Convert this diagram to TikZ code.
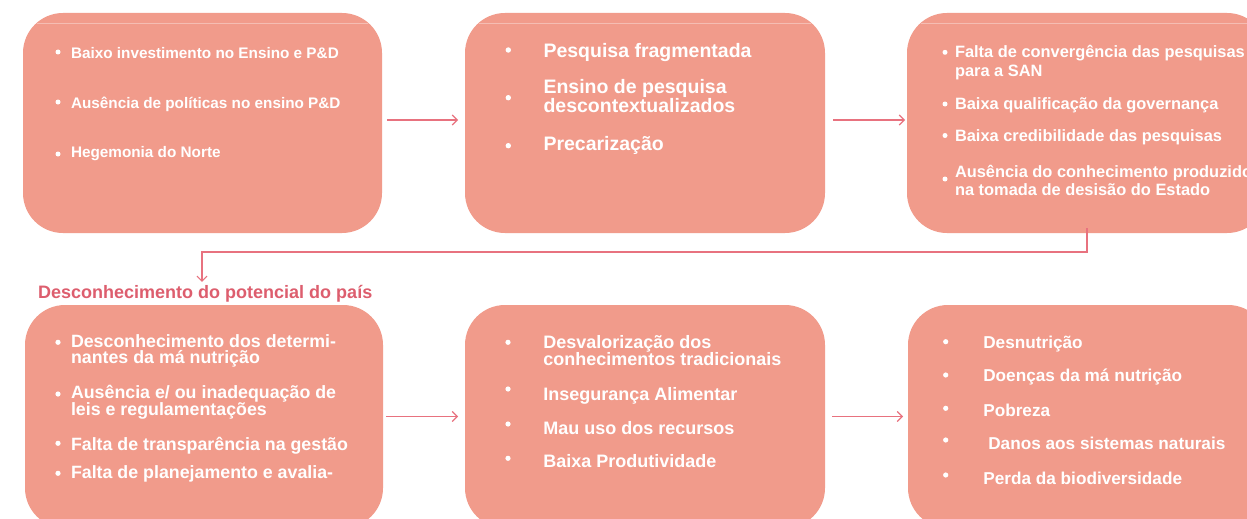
\documentclass[tikz,border=0pt]{standalone}
\usepackage{fontspec}
\setmainfont{Liberation Sans}
\usetikzlibrary{arrows.meta}
\definecolor{boxfill}{HTML}{F19B8B}
\definecolor{linecol}{HTML}{E8727F}
\definecolor{titlecol}{HTML}{DD5E6E}
\tikzset{
  boxnode/.style={rectangle, rounded corners=40pt, fill=boxfill, draw=none, inner sep=0pt, outer sep=0pt},
  item/.style={anchor=base west, inner sep=0pt, outer sep=0pt, text=white, font=\bfseries},
  fa/.style={font=\fontsize{15.3}{18}\selectfont\bfseries},
  fb/.style={font=\fontsize{19.5}{22}\selectfont\bfseries},
  fc/.style={font=\fontsize{16.4}{19}\selectfont\bfseries},
  fd/.style={font=\fontsize{17.8}{20}\selectfont\bfseries},
  fe/.style={font=\fontsize{18}{20}\selectfont\bfseries},
  ff/.style={font=\fontsize{17.2}{20}\selectfont\bfseries},
  arr/.style={draw=linecol, line width=1.1pt, -{Straight Barb[length=5pt,width=10pt]}},
  faint/.style={draw=white, draw opacity=0.35, line width=0.7pt},
  bul/.style={fill=white}
}
\begin{document}
\begin{tikzpicture}[x=1pt,y=-1pt]
\clip (0,0) rectangle (1247,519);
\fill[white] (0,0) rectangle (1247,519);
% boxes
\node[boxnode, minimum width=359pt, minimum height=220pt] (b1) at (202.5,123) {};
\node[boxnode, minimum width=360pt, minimum height=220pt] (b2) at (645,123) {};
\node[boxnode, minimum width=360pt, minimum height=220pt] (b3) at (1087,123) {};
\node[boxnode, minimum width=358pt, minimum height=223pt] (b4) at (204,416.5) {};
\node[boxnode, minimum width=360pt, minimum height=223pt] (b5) at (645,416.5) {};
\node[boxnode, minimum width=360pt, minimum height=223pt] (b6) at (1088,416.5) {};
% faint top lines
\foreach \b in {b1,b2,b3}{
  \draw[faint] ([xshift=14pt,yshift=-10pt]\b.north west) -- ([xshift=-14pt,yshift=-10pt]\b.north east);
}
% connectors
\draw[arr, shorten <=5pt, shorten >=7pt] ([yshift=3pt]b1.east) -- ([yshift=3pt]b2.west);
\draw[arr, shorten <=8pt, shorten >=2pt] ([yshift=3pt]b2.east) -- ([yshift=3pt]b3.west);
\draw[arr, shorten <=3pt, shorten >=7pt] (b4.east) -- (b5.west);
\draw[arr, shorten <=7pt, shorten >=5pt] (b5.east) -- (b6.west);
% title
\node[anchor=base west, inner sep=0pt, text=titlecol, font=\fontsize{18}{20}\selectfont\bfseries] (title) at (38,298.3) {Desconhecimento do potencial do país};
\coordinate (jn) at (202,252);
\draw[arr, line cap=butt, shorten >=3pt] ([yshift=5pt]b3.south) |- (jn) -- (jn |- title.north);
% box 1
\node[item, fa] (t11) at (71,58.3) {Baixo investimento no Ensino e P\&D};
\node[item, fa] (t12) at (71,108.3) {Ausência de políticas no ensino P\&D};
\node[item, fa] (t13) at (71,157.3) {Hegemonia do Norte};
\fill[bul] (58,52) circle (2.5) (58,102) circle (2.5) (58,154) circle (2.5);
% box 2
\node[item, fb] (t21) at (543.5,57.3) {Pesquisa fragmentada};
\node[item, fb] (t22) at (543.5,93.3) {Ensino de pesquisa};
\node[item, fb] (t23) at (543.5,112.7) {descontextualizados};
\node[item, fb] (t24) at (543.5,150) {Precarização};
\fill[bul] (508.3,50) circle (2.7) (508.3,97.7) circle (2.7) (508.3,145.7) circle (2.7);
% box 3
\node[item, fc] (t31) at (955,57.3) {Falta de convergência das pesquisas};
\node[item, fc] (t32) at (955,76) {para a SAN};
\node[item, fc] (t33) at (955,109.3) {Baixa qualificação da governança};
\node[item, fc] (t34) at (955,141.7) {Baixa credibilidade das pesquisas};
\node[item, fc] (t35) at (955,177.3) {Ausência do conhecimento produzido};
\node[item, fc] (t36) at (955,195.7) {na tomada de desisão do Estado};
\fill[bul] (945,52.3) circle (2.5) (945,104) circle (2.5) (945,135.5) circle (2.5) (945,179) circle (2.5);
% box 4
\node[item, fd] (t41) at (71,347.3) {Desconhecimento dos determi-};
\node[item, fd] (t42) at (71,363.6) {nantes da má nutrição};
\node[item, fd] (t43) at (71,398.3) {Ausência e/ ou inadequação de};
\node[item, fd] (t44) at (71,415) {leis e regulamentações};
\node[item, fd] (t45) at (71,450) {Falta de transparência na gestão};
\node[item, fd] (t46) at (71,478) {Falta de planejamento e avalia-};
\fill[bul] (58,342.3) circle (2.6) (58,394) circle (2.6) (58,443.3) circle (2.6) (58,473.3) circle (2.6);
% box 5
\node[item, fe] (t51) at (543.3,348.3) {Desvalorização dos};
\node[item, fe] (t52) at (543.3,365) {conhecimentos tradicionais};
\node[item, fe] (t53) at (543.3,400) {Insegurança Alimentar};
\node[item, fe] (t54) at (543.3,434) {Mau uso dos recursos};
\node[item, fe] (t55) at (543.3,467.7) {Baixa Produtividade};
\fill[bul] (508,342.3) circle (2.6) (508,389) circle (2.6) (508,424) circle (2.6) (508,458.3) circle (2.6);
% box 6
\node[item, ff] (t61) at (983.3,348.3) {Desnutrição};
\node[item, ff] (t62) at (983.3,381.7) {Doenças da má nutrição};
\node[item, ff] (t63) at (983.3,416) {Pobreza};
\node[item, ff] (t64) at (988.3,449.3) {Danos aos sistemas naturais};
\node[item, ff] (t65) at (983.3,484.3) {Perda da biodiversidade};
\fill[bul] (945.7,341.7) circle (2.6) (945.7,375) circle (2.6) (945.7,408.3) circle (2.6) (945.7,440) circle (2.6) (945.7,475) circle (2.6);
\end{tikzpicture}
\end{document}
